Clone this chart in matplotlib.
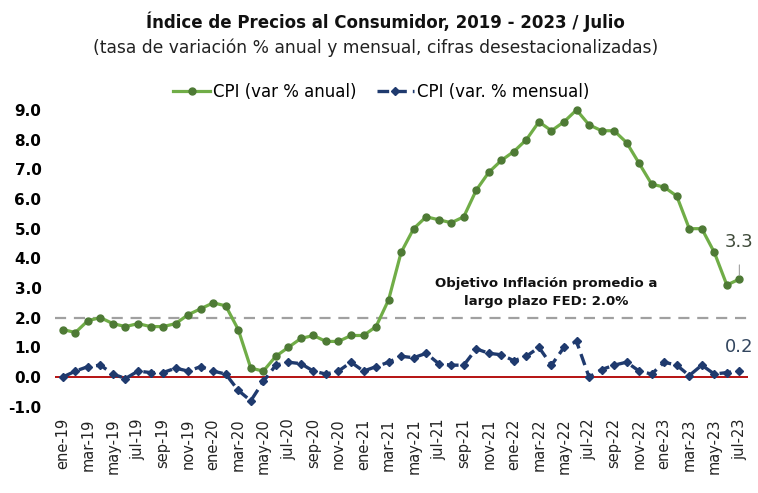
#!/usr/bin/env python3
import matplotlib

matplotlib.use("Agg")
import matplotlib.pyplot as plt
import numpy as np

MONTHS = ["ene", "feb", "mar", "abr", "may", "jun", "jul", "ago", "sep", "oct", "nov", "dic"]
PERIODS = [f"{MONTHS[i % 12]}-{19 + i // 12}" for i in range(55)]

CPI_ANNUAL = [
    1.6, 1.5, 1.9, 2.0, 1.8, 1.7, 1.8, 1.7, 1.7, 1.8, 2.1, 2.3,
    2.5, 2.4, 1.6, 0.3, 0.2, 0.7, 1.0, 1.3, 1.4, 1.2, 1.2, 1.4,
    1.4, 1.7, 2.6, 4.2, 5.0, 5.4, 5.3, 5.2, 5.4, 6.3, 6.9, 7.3,
    7.6, 8.0, 8.6, 8.3, 8.6, 9.0, 8.5, 8.3, 8.3, 7.9, 7.2, 6.5,
    6.4, 6.1, 5.0, 5.0, 4.2, 3.1, 3.3,
]
CPI_MONTHLY = [
    0.0, 0.2, 0.35, 0.4, 0.1, -0.05, 0.2, 0.15, 0.15, 0.3, 0.2, 0.35,
    0.2, 0.1, -0.45, -0.8, -0.15, 0.4, 0.5, 0.45, 0.2, 0.1, 0.2, 0.5,
    0.2, 0.35, 0.5, 0.7, 0.65, 0.8, 0.45, 0.4, 0.4, 0.95, 0.8, 0.75,
    0.55, 0.7, 1.0, 0.4, 1.0, 1.2, 0.0, 0.25, 0.4, 0.5, 0.2, 0.1,
    0.5, 0.4, 0.05, 0.4, 0.1, 0.15, 0.2,
]
FED_TARGET = 2.0

GREEN = "#70AD47"
GREEN_DARK = "#4E7A35"
NAVY = "#1F3A6E"

fig = plt.figure(figsize=(7.58, 4.93), dpi=100)
ax = fig.add_axes([0.073, 0.163, 0.914, 0.632])
x = np.arange(len(PERIODS))

ax.axhline(0.0, color="#B00000", linewidth=1.3, zorder=1)
ax.axhline(FED_TARGET, color="#A0A0A0", linewidth=1.6, linestyle=(0, (5, 3.5)), zorder=1)

ax.plot(x, CPI_ANNUAL, color=GREEN, linewidth=2.3, marker="o", markersize=5,
        markerfacecolor=GREEN_DARK, markeredgecolor=GREEN_DARK, label="CPI (var % anual)", zorder=3)
ax.plot(x, CPI_MONTHLY, color=NAVY, linewidth=2.4, linestyle=(0, (3.5, 1.8)), marker="D", markersize=4,
        markerfacecolor=NAVY, markeredgecolor=NAVY, label="CPI (var. % mensual)", zorder=3)

ax.annotate(f"{CPI_ANNUAL[-1]:.1f}", xy=(x[-1], CPI_ANNUAL[-1]), xytext=(x[-1], CPI_ANNUAL[-1] + 1.25),
            ha="center", va="center", fontsize=13, color="#3F4A3A",
            arrowprops=dict(arrowstyle="-", color="#A0A0A0", linewidth=0.8, shrinkA=8, shrinkB=3))
ax.text(x[-1], CPI_MONTHLY[-1] + 0.8, f"{CPI_MONTHLY[-1]:.1f}", ha="center", va="center",
        fontsize=13, color="#33465F")
ax.text(38.6, 2.85, "Objetivo Inflación promedio a\nlargo plazo FED: 2.0%", ha="center", va="center",
        fontsize=9.5, fontweight="bold", color="#111111", linespacing=1.45)

ax.set_xlim(-0.6, 54.7)
ax.set_ylim(-1.2, 9.3)
ax.set_yticks(np.arange(-1, 10, 1))
ax.set_yticklabels([f"{v:.1f}" for v in np.arange(-1, 10, 1)], fontsize=11, fontweight="bold")
ax.set_xticks(x[::2])
ax.set_xticklabels(PERIODS[::2], rotation=90, fontsize=10.5, color="#222222")
ax.tick_params(axis="both", length=0)
ax.tick_params(axis="x", pad=4)
ax.tick_params(axis="y", pad=10)
for spine in ax.spines.values():
    spine.set_visible(False)

fig.text(0.508, 0.955, "Índice de Precios al Consumidor, 2019 - 2023 / Julio", ha="center", va="center",
         fontsize=12, fontweight="bold", color="#111111")
fig.text(0.495, 0.903, "(tasa de variación % anual y mensual, cifras desestacionalizadas)", ha="center",
         va="center", fontsize=12.3, color="#222222")
fig.legend(loc="center", bbox_to_anchor=(0.503, 0.813), ncol=2, frameon=False, fontsize=12,
           handlelength=2.2, columnspacing=1.2, handletextpad=0.2)

fig.savefig("out.png", dpi=100)
